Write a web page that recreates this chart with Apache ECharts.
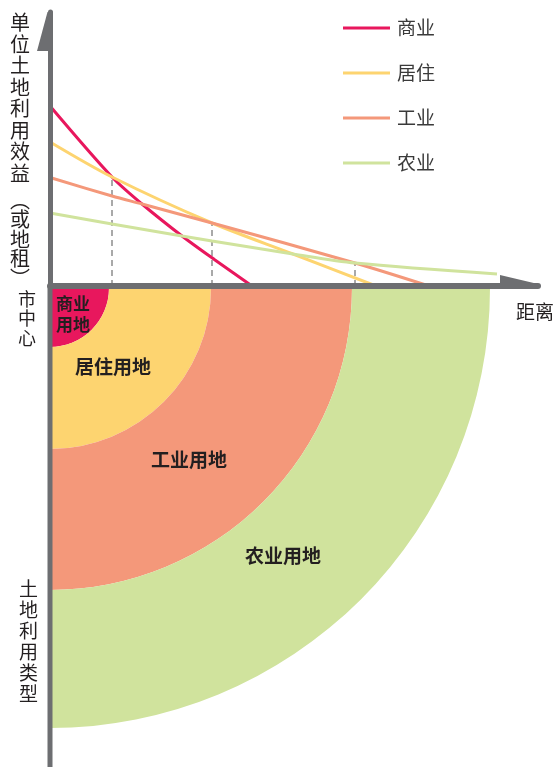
<!DOCTYPE html>
<html>
<head>
<meta charset="utf-8">
<script src="https://cdn.jsdelivr.net/npm/echarts@6/dist/echarts.min.js"></script>
<style>
html,body{margin:0;padding:0;background:#fff;}
#c{width:557px;height:767px;}
</style>
</head>
<body>
<div id="c"></div>
<script>
// ---- data (distance units along x, land-use benefit units along y) ----
const seriesNames = ['商业', '居住', '工业', '农业'];
const commerceX = [0, 6.2, 9.2, 13.2, 16.5, 20.2];
const commerceY = [18.0, 10.9, 8.2, 5.0, 2.6, 0];
const residentialX = [0, 6.2, 16.2, 24.3, 32.6];
const residentialY = [14.4, 10.9, 6.3, 3.2, 0];
const industrialX = [0, 6.2, 9.2, 16.2, 30.5, 37.9];
const industrialY = [10.85, 9.0, 8.2, 6.3, 2.3, 0];
const agricultureX = [0, 6.2, 13.2, 16.2, 24.3, 30.5, 44.7];
const agricultureY = [7.3, 6.2, 5.0, 4.5, 3.2, 2.3, 1.2];
const boundaryX = [6.2, 16.2, 30.5];
const boundaryTop = [10.9, 6.3, 2.3];
const zoneNames = ['商业用地', '居住用地', '工业用地', '农业用地'];
const zoneOuter = [5.9, 16.1, 30.2, 44.0];

const colors = ['#E8175D', '#FDD470', '#F4987A', '#D0E39D'];
const axisGray = '#6D6E71';
const textDark = '#231F20';
const FONT = '"Noto Sans CJK SC", "Noto Sans", sans-serif';

function zip(xs, ys) { return xs.map((x, i) => [x, ys[i]]); }
const curveData = [zip(commerceX, commerceY), zip(residentialX, residentialY), zip(industrialX, industrialY), zip(agricultureX, agricultureY)];

const chart = echarts.init(document.getElementById('c'), null, {renderer: 'canvas'});

const lineSeries = seriesNames.map((n, i) => ({
  name: n, type: 'line', data: curveData[i], color: colors[i],
  smooth: 0.3, showSymbol: false, symbol: 'none',
  lineStyle: {width: 3, color: colors[i]}, z: 3, silent: true
}));
const dashSeries = boundaryX.map((x, i) => ({
  type: 'line', data: [[x, 0], [x, boundaryTop[i]]], showSymbol: false, symbol: 'none',
  lineStyle: {width: 1.5, color: '#8C8C8C', type: [6, 4]}, z: 2, silent: true
}));

const baseOption = {
  animation: false,
  grid: {left: 50, top: 12, width: 488, height: 274, containLabel: false},
  xAxis: {type: 'value', min: 0, max: 48.8, z: 6,
    axisLine: {show: true, onZero: false, lineStyle: {color: axisGray, width: 6}},
    axisTick: {show: false}, axisLabel: {show: false}, splitLine: {show: false}},
  yAxis: {type: 'value', min: 0, max: 27.4, z: 6,
    axisLine: {show: true, onZero: false, lineStyle: {color: axisGray, width: 5}},
    axisTick: {show: false}, axisLabel: {show: false}, splitLine: {show: false}},
  legend: {
    data: seriesNames, orient: 'vertical', left: 343, top: 18.5, padding: 0, icon: 'rect',
    itemWidth: 47, itemHeight: 3, itemGap: 26,
    textStyle: {fontFamily: FONT, fontSize: 19, color: '#3A3A3A', padding: [0, 0, 0, 2]}
  },
  series: lineSeries.concat(dashSeries)
};
chart.setOption(baseOption);

// rings: radii converted through the x-axis scale
const origin = chart.convertToPixel({gridIndex: 0}, [0, 0]);
const px = v => chart.convertToPixel({gridIndex: 0}, [v, 0])[0] - origin[0];
const pieSeries = zoneNames.map((n, i) => ({
  type: 'pie', center: [origin[0], 288],
  radius: [i === 0 ? 0 : px(zoneOuter[i - 1]), px(zoneOuter[i])],
  startAngle: 0, endAngle: -90, clockwise: true, silent: true,
  label: {show: false}, labelLine: {show: false}, z: 1,
  data: [{value: 1, name: n, itemStyle: {color: colors[i]}}]
}));

const vText = (s) => s.split('').join('\n');
chart.setOption({
  series: lineSeries.concat(dashSeries).concat(pieSeries),
  graphic: [
    {type: 'rect', z: 100, shape: {x: 47.5, y: 286, width: 5, height: 490}, style: {fill: axisGray}},
    {type: 'polygon', z: 100, shape: {points: [[47.5, 12], [52.5, 12], [52.5, 51], [37, 51]]}, style: {fill: axisGray}},
    {type: 'polygon', z: 100, shape: {points: [[500, 275], [538, 284], [538, 289], [500, 289]]}, style: {fill: axisGray}},
    {type: 'text', z: 100, left: 10, top: 12, style: {text: vText('单位土地利用效益'), font: '20px ' + FONT, fill: textDark, lineHeight: 21.5, align: 'left'}},
    {type: 'text', z: 100, left: 10, top: 190, style: {text: vText('︵或地租︶'), font: '20px ' + FONT, fill: textDark, lineHeight: 19.5, align: 'left'}},
    {type: 'text', z: 100, left: 18, top: 289, style: {text: vText('市中心'), font: '18px ' + FONT, fill: textDark, lineHeight: 19.5}},
    {type: 'text', z: 100, left: 19, top: 578, style: {text: vText('土地利用类型'), font: '19px ' + FONT, fill: textDark, lineHeight: 21}},
    {type: 'text', z: 100, left: 516, top: 302, style: {text: '距离', font: '19px ' + FONT, fill: textDark}},
    {type: 'text', z: 100, left: 56, top: 293, style: {text: '商业\n用地', font: 'bold 17px ' + FONT, fill: textDark, lineHeight: 21}},
    {type: 'text', z: 100, x: 113, y: 367, style: {text: '居住用地', font: 'bold 19px ' + FONT, fill: textDark, align: 'center', verticalAlign: 'middle'}},
    {type: 'text', z: 100, x: 189, y: 460, style: {text: '工业用地', font: 'bold 19px ' + FONT, fill: textDark, align: 'center', verticalAlign: 'middle'}},
    {type: 'text', z: 100, x: 283, y: 556, style: {text: '农业用地', font: 'bold 19px ' + FONT, fill: textDark, align: 'center', verticalAlign: 'middle'}}
  ]
});
</script>
</body>
</html>
